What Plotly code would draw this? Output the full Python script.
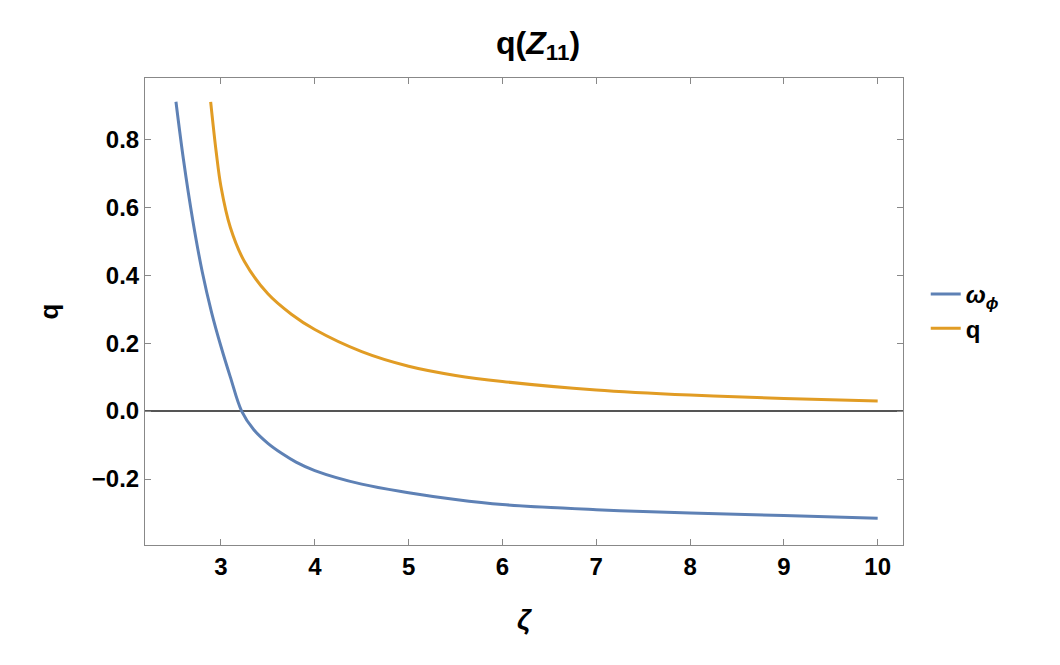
import plotly.graph_objects as go

zeta_w = [2.52, 2.6, 2.7, 2.8, 2.9, 3.0, 3.1, 3.22, 3.35, 3.5, 3.65, 3.8, 4.0, 4.5, 5.0, 5.5, 6.0, 7.0, 8.0, 9.0, 10.0]
omega_phi = [0.91, 0.74, 0.56, 0.41, 0.29, 0.19, 0.10, 0.0, -0.055, -0.095, -0.125, -0.15, -0.175, -0.215, -0.24, -0.26, -0.275, -0.29, -0.30, -0.307, -0.315]

zeta_q = [2.89, 2.95, 3.0, 3.1, 3.25, 3.5, 3.75, 4.0, 4.5, 5.0, 5.5, 6.0, 7.0, 8.0, 9.0, 10.0]
q_vals = [0.91, 0.76, 0.66, 0.54, 0.44, 0.345, 0.285, 0.24, 0.175, 0.132, 0.105, 0.087, 0.062, 0.047, 0.037, 0.03]

tick_font = dict(family="Liberation Sans", size=24, color="black")

fig = go.Figure()
fig.add_trace(go.Scatter(x=zeta_w, y=omega_phi, mode="lines", line=dict(color="#5e81b5", width=3, shape="spline"),
                         name="<b><i>ω</i><sub><i>ϕ</i></sub></b>"))
fig.add_trace(go.Scatter(x=zeta_q, y=q_vals, mode="lines", line=dict(color="#e19c24", width=3, shape="spline"),
                         name="<b>q</b>"))

fig.update_layout(
    width=1060, height=665, plot_bgcolor="white", paper_bgcolor="white",
    margin=dict(l=137, r=165, t=70, b=128),
    title=dict(text="<b>q(<i>Z</i><sub>11</sub>)</b>", x=0.5, xanchor="center", y=0.965,
               font=dict(family="Liberation Sans", size=32, color="black")),
    font=tick_font,
    legend=dict(x=1.03, y=0.5, yanchor="middle", font=dict(family="Liberation Sans", size=24, color="black"),
                tracegroupgap=14),
    xaxis=dict(range=[2.19, 10.27], tickvals=[3, 4, 5, 6, 7, 8, 9, 10], ticktext=["<b>%d</b>" % v for v in range(3, 11)],
               tickfont=tick_font,
               showgrid=False, zeroline=False, showline=True, linecolor="#888", mirror="ticks",
               ticks="inside", ticklen=6, tickcolor="#888",
               title=dict(text="<b><i>ζ</i></b>", font=dict(family="Liberation Sans", size=28, color="black"), standoff=30)),
    yaxis=dict(range=[-0.394, 0.98], tickvals=[-0.2, 0, 0.2, 0.4, 0.6, 0.8],
               ticktext=["<b>−0.2</b>", "<b>0.0</b>", "<b>0.2</b>", "<b>0.4</b>", "<b>0.6</b>", "<b>0.8</b>"],
               tickfont=tick_font,
               showgrid=False, zeroline=True, zerolinecolor="#555", zerolinewidth=1.5,
               showline=True, linecolor="#888", mirror="ticks", ticks="inside", ticklen=6, tickcolor="#888",
               title=dict(text="<b>q</b>", font=dict(family="Liberation Sans", size=26, color="black"), standoff=25)),
)

fig.write_html("out.html")
